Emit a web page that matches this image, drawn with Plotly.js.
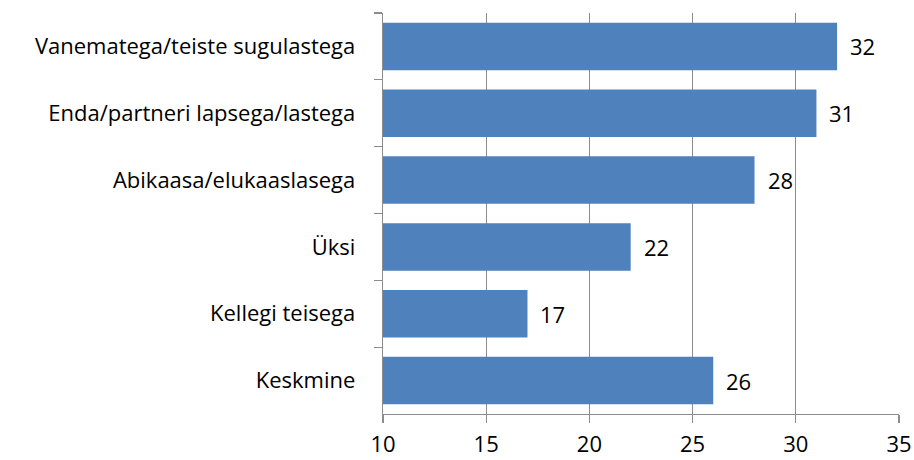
<!DOCTYPE html>
<html>
<head>
<meta charset="utf-8">
<script src="https://cdn.plot.ly/plotly-3.0.1.min.js"></script>
<style>body{margin:0;padding:0;background:#fff;} #chart{width:914px;height:460px;}</style>
</head>
<body>
<div id="chart"></div>
<script>
const categories = ["Vanematega/teiste sugulastega", "Enda/partneri lapsega/lastega", "Abikaasa/elukaaslasega", "Üksi", "Kellegi teisega", "Keskmine"];
const values = [32, 31, 28, 22, 17, 26];
const xTicks = [10, 15, 20, 25, 30, 35];
const baseline = 10;

const font = "'Open Sans', sans-serif";
const gray = "#8c8c8c";

const trace = {
  type: "bar",
  orientation: "h",
  y: categories,
  x: values.map(v => v - baseline),
  base: baseline,
  marker: {color: "#4f81bd"},
  hoverinfo: "none"
};

const annotations = categories.map((c, i) => ({
  x: values[i], y: c, xref: "x", yref: "y",
  text: String(values[i]), showarrow: false,
  xanchor: "left", xshift: 11,
  font: {family: font, size: 22, color: "#000"}
}));

const layout = {
  width: 914, height: 460,
  margin: {l: 383, r: 15, t: 13, b: 46},
  paper_bgcolor: "#fff", plot_bgcolor: "#fff",
  showlegend: false,
  bargap: 0.29,
  font: {family: font, size: 22, color: "#000"},
  xaxis: {
    range: [10, 35], tickvals: xTicks, ticktext: xTicks.map(String),
    showgrid: true, gridcolor: gray, gridwidth: 1.3,
    showline: true, linecolor: gray, linewidth: 1.3,
    ticks: "outside", ticklen: 8, tickcolor: gray, tickwidth: 1.3,
    ticklabelstandoff: 2,
    zeroline: false, fixedrange: true,
    tickfont: {family: font, size: 22, color: "#000"}
  },
  yaxis: {
    type: "category", autorange: "reversed",
    showgrid: false, showline: true, linecolor: gray, linewidth: 1.3,
    ticks: "outside", tickson: "boundaries", ticklen: 8, tickcolor: gray, tickwidth: 1.3,
    ticklabelstandoff: 22,
    tickfont: {family: font, size: 22, color: "#000"},
    fixedrange: true
  },
  annotations: annotations
};

Plotly.newPlot("chart", [trace], layout, {staticPlot: true, displayModeBar: false});
</script>
</body>
</html>
